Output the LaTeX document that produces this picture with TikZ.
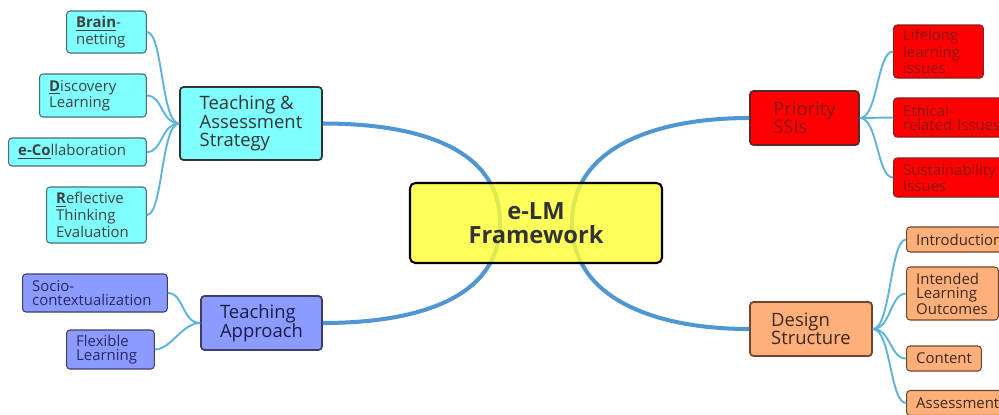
\documentclass[tikz,border=0pt]{standalone}
\usepackage{fontspec}
\setmainfont{Open Sans}
\usepackage{tikz}
\usetikzlibrary{positioning}

\definecolor{centrefill}{RGB}{255,255,51}
\definecolor{aquafill}{RGB}{128,255,255}
\definecolor{aquaedge}{RGB}{70,110,120}
\definecolor{violetfill}{RGB}{140,155,255}
\definecolor{violetedge}{RGB}{60,60,110}
\definecolor{violettext}{RGB}{40,40,100}
\definecolor{redfill}{RGB}{255,0,0}
\definecolor{rededge}{RGB}{90,40,40}
\definecolor{redtext}{RGB}{140,20,20}
\definecolor{orangefill}{RGB}{255,176,122}
\definecolor{orangeedge}{RGB}{110,70,45}
\definecolor{orangetext}{RGB}{60,40,30}
\definecolor{mainline}{RGB}{80,150,210}
\definecolor{subline}{RGB}{95,180,220}

\begin{document}
\begin{tikzpicture}[x=0.02cm,y=-0.02cm]

\tikzstyle{topic}=[draw, line width=1pt, rounded corners=2pt, align=left, inner xsep=4pt, font=\fontsize{10.5}{10.5}\selectfont]
\tikzstyle{leaf}=[draw, line width=0.6pt, rounded corners=2pt, align=left, anchor=west, inner xsep=5.5pt, inner ysep=1pt, font=\fontsize{8.5}{8}\selectfont]
\tikzstyle{branch}=[draw, line width=2.3pt, mainline]
\tikzstyle{twig}=[draw, line width=1.1pt, subline]

\useasboundingbox (0,0) rectangle (999,414);
\clip (0,0) rectangle (999,414);

\coordinate (elm_left) at (500,223);
\coordinate (elm_right) at (572,223);

% main topics
\node[topic, fill=aquafill, draw=black!80, text=black!80, minimum width=2.84cm, minimum height=1.46cm] (strategy) at (251,123.5) {Teaching \&\\Assessment\\Strategy};
\node[topic, fill=violetfill, draw=violetedge, text=violettext!70!black, minimum width=2.42cm, minimum height=1.08cm] (approach) at (261.5,323) {Teaching\\Approach};
\node[topic, fill=redfill, draw=rededge, text=redtext, minimum width=2.18cm, minimum height=1.08cm] (priority) at (804.5,118) {Priority\\SSIs};
\node[topic, fill=orangefill, draw=orangeedge, text=orangetext, minimum width=2.44cm, minimum height=1.08cm] (design) at (811,329) {Design\\Structure};

\path[branch] (elm_left) .. controls +(0,-75) and +(95,0) .. (strategy.east);
\path[branch] (elm_left) .. controls +(0,75) and +(95,0) .. (approach.east);
\path[branch] (elm_right) .. controls +(0,-75) and +(-95,0) .. (priority.west);
\path[branch] (elm_right) .. controls +(0,75) and +(-95,0) .. (design.west);

% centre
\node[draw=black, line width=1.2pt, fill=centrefill, fill opacity=0.8, text opacity=1, rounded corners=3pt, minimum width=5.04cm, minimum height=1.6cm, align=center, font=\fontsize{13.5}{13.8}\selectfont\bfseries, text=black!80] (elm) at (536,223) {e-LM\\Framework};

% teaching & assessment strategy
\node[leaf, fill=aquafill, draw=aquaedge, text=black!75, text width=1.21cm, minimum height=0.84cm] (brain) at (66,32) {\underline{\textbf{Brain}}-\\netting};
\node[leaf, fill=aquafill, draw=aquaedge, text=black!75, text width=1.75cm, minimum height=0.86cm] (discovery) at (39,95.5) {\underline{\textbf{D}}iscovery\\Learning};
\node[leaf, fill=aquafill, draw=aquaedge, text=black!75, text width=2.37cm, minimum height=0.56cm] (collaboration) at (8,152) {\underline{\textbf{e-Co}}llaboration};
\node[leaf, fill=aquafill, draw=aquaedge, text=black!75, text width=1.61cm, minimum height=1.12cm] (reflective) at (46,215) {\underline{\textbf{R}}eflective\\Thinking\\Evaluation};

% teaching approach
\node[leaf, fill=violetfill, draw=violetedge, text=violettext, text width=2.51cm, minimum height=0.76cm] (socio) at (22,293) {Socio-\\contextualization};
\node[leaf, fill=violetfill, draw=violetedge, text=violettext, text width=1.37cm, minimum height=0.78cm] (flexible) at (66,349.5) {Flexible\\Learning};

% priority SSIs
\node[leaf, fill=redfill, draw=rededge!70!red, text=redtext, text width=1.41cm, minimum height=1.06cm] (lifelong) at (893,51.5) {Lifelong\\learning\\issues};
\node[leaf, fill=redfill, draw=rededge!70!red, text=redtext, text width=2.01cm, minimum height=0.78cm] (ethical) at (893,117.5) {Ethical-\\related Issues};
\node[leaf, fill=redfill, draw=rededge!70!red, text=redtext, text width=2.01cm, minimum height=0.78cm] (sustainability) at (893,177.5) {Sustainability\\Issues};

% design structure
\node[leaf, fill=orangefill, draw=orangeedge, text=orangetext, text width=1.9cm, minimum height=0.5cm] (introduction) at (906,239.5) {Introduction};
\node[leaf, fill=orangefill, draw=orangeedge, text=orangetext, text width=1.45cm, minimum height=1.06cm] (outcomes) at (906,293.5) {Intended\\Learning\\Outcomes};
\node[leaf, fill=orangefill, draw=orangeedge, text=orangetext, text width=1.11cm, minimum height=0.5cm] (content) at (906,358.5) {Content};
\node[leaf, fill=orangefill, draw=orangeedge, text=orangetext, text width=1.81cm, minimum height=0.5cm] (assessment) at (906,403) {Assessment};

\path[twig] (strategy.west) .. controls +(-18,0) and +(16,0) .. (brain.east);
\path[twig] (strategy.west) .. controls +(-18,0) and +(16,0) .. (discovery.east);
\path[twig] (strategy.west) .. controls +(-18,0) and +(16,0) .. (collaboration.east);
\path[twig] (strategy.west) .. controls +(-18,0) and +(16,0) .. (reflective.east);

\path[twig] (approach.west) .. controls +(-18,0) and +(16,0) .. (socio.east);
\path[twig] (approach.west) .. controls +(-18,0) and +(16,0) .. (flexible.east);

\path[twig] (priority.east) .. controls +(18,0) and +(-16,0) .. (lifelong.west);
\path[twig] (priority.east) -- (ethical.west);
\path[twig] (priority.east) .. controls +(18,0) and +(-16,0) .. (sustainability.west);

\path[twig] (design.east) .. controls +(18,0) and +(-16,0) .. (introduction.west);
\path[twig] (design.east) .. controls +(18,0) and +(-16,0) .. (outcomes.west);
\path[twig] (design.east) .. controls +(18,0) and +(-16,0) .. (content.west);
\path[twig] (design.east) .. controls +(18,0) and +(-16,0) .. (assessment.west);

\end{tikzpicture}
\end{document}
